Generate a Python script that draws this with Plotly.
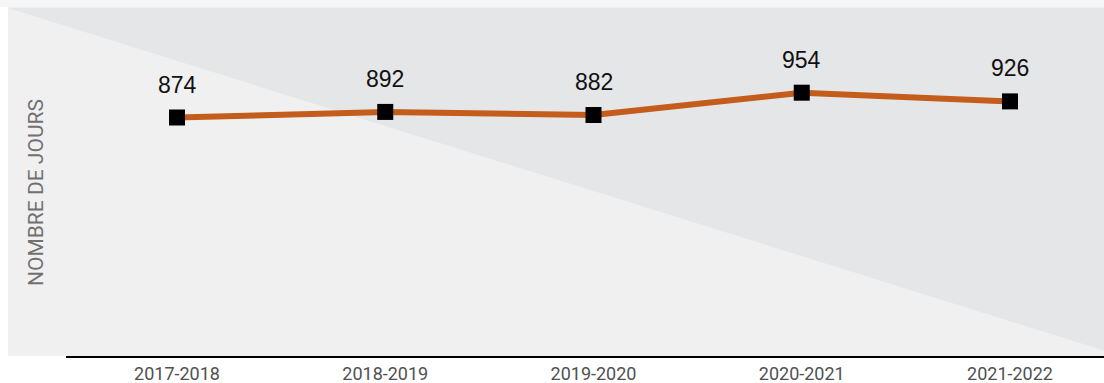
import plotly.graph_objects as go

categories = ["2017-2018", "2018-2019", "2019-2020", "2020-2021", "2021-2022"]
values = [874, 892, 882, 954, 926]
y_title = "NOMBRE DE JOURS"

W, H = 1104, 383
L, R, T, B = 66, 0, 7, 27
pw, ph = W - L - R, H - T - B

def px_x(x):
    return (x - L) / pw

def px_y(y):
    return (H - B - y) / ph

fig = go.Figure()
fig.add_trace(go.Scatter(
    x=list(range(len(categories))), y=values,
    mode="lines+markers",
    line=dict(color="#c45c1c", width=6),
    marker=dict(symbol="square", size=16, color="#000000"),
    cliponaxis=False,
    hoverinfo="skip",
))

annotations = [dict(
    x=i, y=v, xref="x", yref="y", text=str(v), showarrow=False,
    yshift=33, xanchor="center", yanchor="middle",
    font=dict(family="Liberation Sans, Arial, sans-serif", size=23, color="#111111"),
) for i, v in enumerate(values)]

annotations.append(dict(
    text=y_title, xref="paper", yref="paper",
    x=px_x(36), y=px_y(193), textangle=-90,
    showarrow=False, xanchor="center", yanchor="middle",
    font=dict(family="Roboto, sans-serif", size=21, color="#707070"),
))

shapes = [
    dict(type="rect", xref="paper", yref="paper",
         x0=px_x(0), x1=1, y0=px_y(7), y1=px_y(0),
         fillcolor="#f6f6f6", line=dict(width=0), layer="below"),
    dict(type="rect", xref="paper", yref="paper",
         x0=px_x(8), x1=1, y0=0, y1=1,
         fillcolor="#f0f0f0", line=dict(width=0), layer="below"),
    dict(type="path", xref="paper", yref="paper",
         path=f"M {px_x(8)},{px_y(8)} L 1,{px_y(8)} L 1,{px_y(350.5)} Z",
         fillcolor="#e5e6e8", line=dict(width=0), layer="below"),
]

xscale = 208.25
x0 = -(177 - L) / xscale
x1 = x0 + pw / xscale

yscale = 0.31
ytop = 874 + (117.5 - T) / yscale
ybot = 874 - (H - B - 117.5) / yscale

fig.update_layout(
    width=W, height=H,
    margin=dict(l=L, r=R, t=T, b=B, pad=0, autoexpand=False),
    paper_bgcolor="#ffffff",
    plot_bgcolor="rgba(0,0,0,0)",
    showlegend=False,
    shapes=shapes,
    annotations=annotations,
    xaxis=dict(
        range=[x0, x1],
        automargin=False,
        tickmode="array",
        tickvals=list(range(len(categories))),
        ticktext=categories,
        showgrid=False, zeroline=False,
        showline=True, linecolor="#000000", linewidth=2,
        ticks="", ticklabelstandoff=0,
        tickfont=dict(family="Roboto, sans-serif", size=18, color="#505050"),
        fixedrange=True,
    ),
    yaxis=dict(
        range=[ybot, ytop],
        automargin=False,
        showgrid=False, zeroline=False, showline=False,
        showticklabels=False,
        fixedrange=True,
    ),
)

fig.write_html("out.html")
